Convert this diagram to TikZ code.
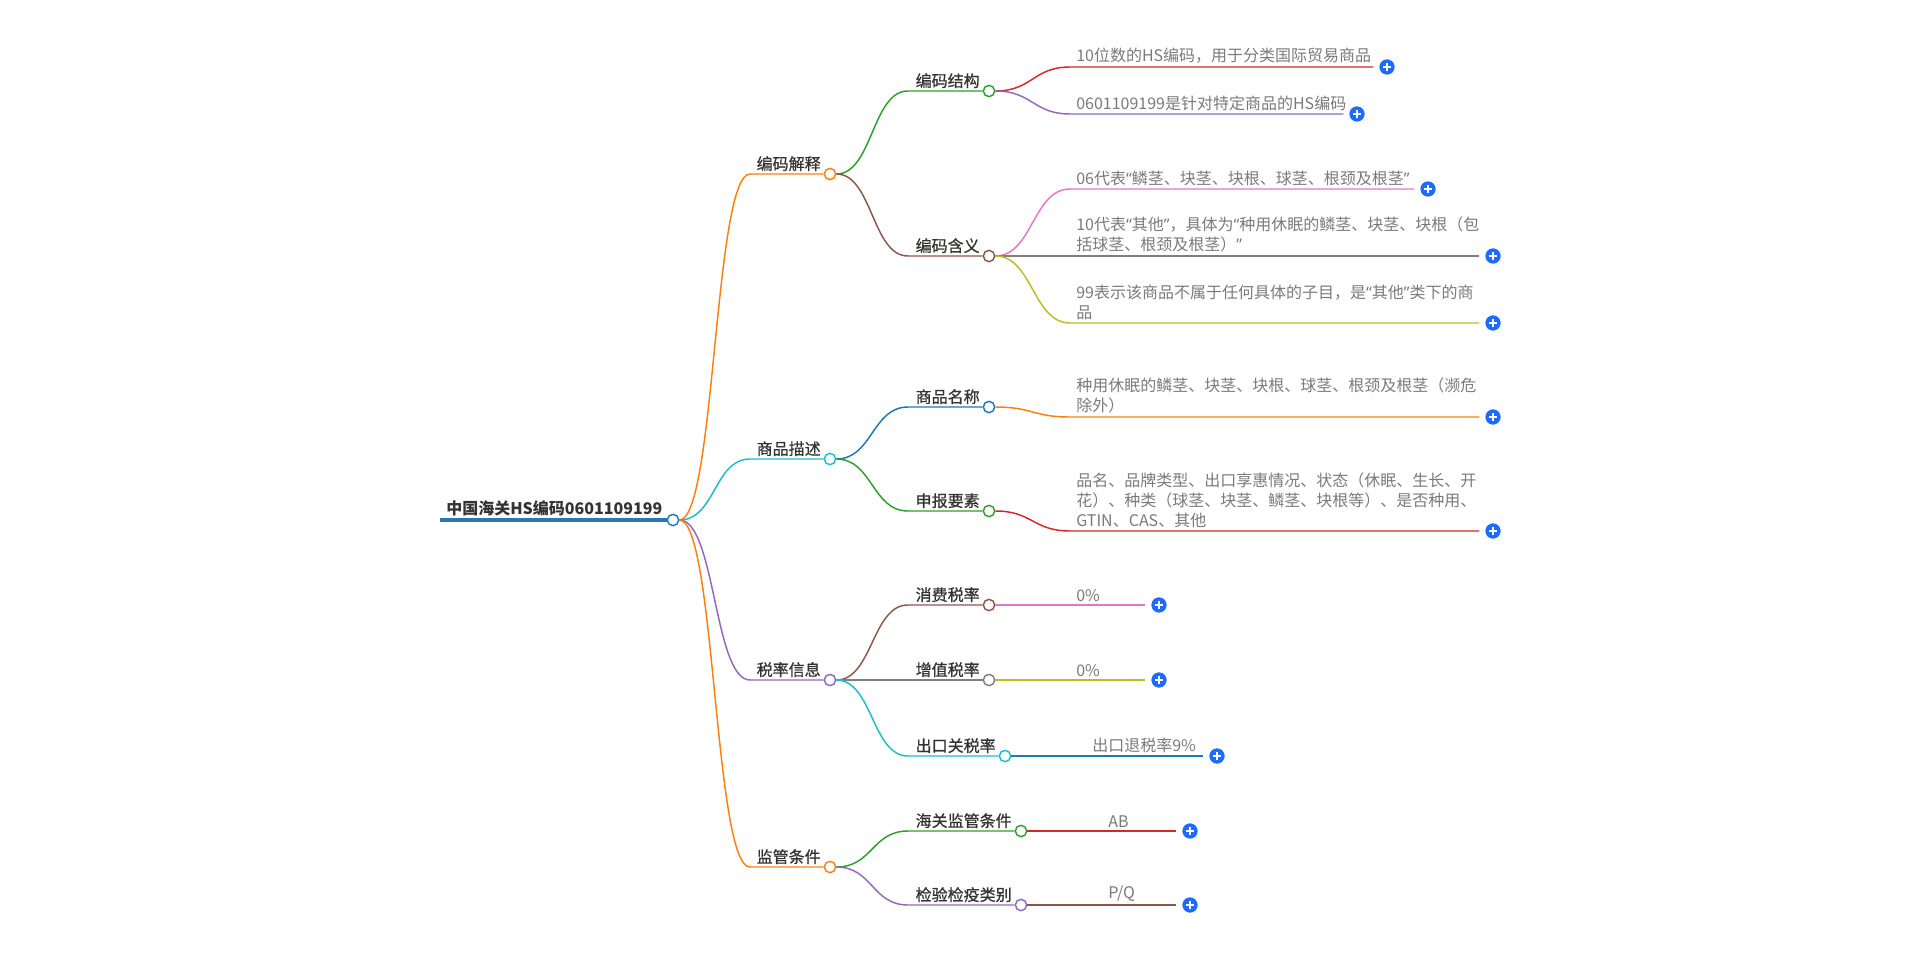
\documentclass[tikz,border=0pt]{standalone}
\usepackage{fontspec}
\setmainfont{Noto Sans CJK SC}
\newfontfamily\midfont{Noto Sans CJK SC}[FakeBold=0.7]
\newfontfamily\latinfont{Noto Sans}
\usetikzlibrary{positioning}

\definecolor{dOrange}{HTML}{FF7F0E}
\definecolor{dGreen}{HTML}{2CA02C}
\definecolor{dBrown}{HTML}{8C564B}
\definecolor{dRed}{HTML}{D62728}
\definecolor{dPurple}{HTML}{9467BD}
\definecolor{dPink}{HTML}{E377C2}
\definecolor{dGray}{HTML}{7F7F7F}
\definecolor{dOlive}{HTML}{BCBD22}
\definecolor{dCyan}{HTML}{17BECF}
\definecolor{dBlue}{HTML}{1F77B4}
\definecolor{rootblue}{HTML}{2878B8}
\definecolor{plusblue}{HTML}{1F6BFF}
\definecolor{txtdark}{HTML}{333333}
\definecolor{txtgray}{HTML}{7A7A7A}

% narrow curly quotes
\newcommand{\oquote}{{\latinfont “}}
\newcommand{\cquote}{{\latinfont ”}}

\begin{document}
\begin{tikzpicture}[
    x=0.75pt, y=-0.75pt,
    dot/.style={circle, draw, fill=white, line width=1.1pt, minimum size=8.5pt, inner sep=0pt},
    lvl/.style={font=\fontsize{12pt}{15pt}\midfont, text=txtdark, inner sep=0pt},
    leaf/.style={font=\fontsize{12pt}{15pt}\selectfont, text=txtgray, align=left, anchor=south west, inner xsep=4.5pt, inner ysep=2.5pt},
    plus/.style={circle, fill=plusblue, minimum size=11.5pt, inner sep=0pt, outer sep=4.5pt,
        path picture={\draw[white, line width=1.2pt]
            ([xshift=-3.2pt]path picture bounding box.center) -- ([xshift=3.2pt]path picture bounding box.center)
            ([yshift=-3.2pt]path picture bounding box.center) -- ([yshift=3.2pt]path picture bounding box.center);}},
    link/.style={line width=1.1pt}
]
    \useasboundingbox (0,0) rectangle (1920,953);
    \coordinate (x1) at (750,0);
    \coordinate (x2) at (908,0);

    % root
    \coordinate (rootstart) at (440,520);
    \node[dot, draw=rootblue] (root) at (673,520) {};
    \node[lvl, font=\fontsize{12pt}{15pt}\selectfont\bfseries, above left=2.5pt and 3pt of root.west] (roottxt) {中国海关HS编码0601109199};
    \draw[rootblue, line width=3pt] (rootstart) -- (root.west);

    % first level
    \node[dot, draw=dOrange] (code) at (830,174) {};
    \node[dot, draw=dCyan] (goods) at (830,459) {};
    \node[dot, draw=dPurple] (tax) at (830,680) {};
    \node[dot, draw=dOrange] (control) at (830,867) {};
    \node[lvl, above left=2pt and 2pt of code.west] (codetxt) {编码解释};
    \node[lvl, above left=2pt and 2pt of goods.west] (goodstxt) {商品描述};
    \node[lvl, above left=2pt and 2pt of tax.west] (taxtxt) {税率信息};
    \node[lvl, above left=2pt and 2pt of control.west] (controltxt) {监管条件};
    \draw[link, dOrange] (root.east) .. controls +(36,0) and +(-36,0) .. (x1 |- code) -- (code.west);
    \draw[link, dCyan] (root.east) .. controls +(36,0) and +(-36,0) .. (x1 |- goods) -- (goods.west);
    \draw[link, dPurple] (root.east) .. controls +(36,0) and +(-36,0) .. (x1 |- tax) -- (tax.west);
    \draw[link, dOrange] (root.east) .. controls +(36,0) and +(-36,0) .. (x1 |- control) -- (control.west);

    % second level
    \node[dot, draw=dGreen] (struct) at (989,91) {};
    \node[dot, draw=dBrown] (meaning) at (989,256) {};
    \node[dot, draw=dBlue] (name) at (989,407) {};
    \node[dot, draw=dGreen] (elements) at (989,511) {};
    \node[dot, draw=dBrown] (consume) at (989,605) {};
    \node[dot, draw=dGray] (vat) at (989,680) {};
    \node[dot, draw=dCyan] (export) at (1005,756) {};
    \node[dot, draw=dGreen] (customs) at (1021,831) {};
    \node[dot, draw=dPurple] (inspect) at (1021,905) {};
    \node[lvl, above left=2pt and 2pt of struct.west] (structtxt) {编码结构};
    \node[lvl, above left=2pt and 2pt of meaning.west] (meaningtxt) {编码含义};
    \node[lvl, above left=2pt and 2pt of name.west] (nametxt) {商品名称};
    \node[lvl, above left=2pt and 2pt of elements.west] (elementstxt) {申报要素};
    \node[lvl, above left=2pt and 2pt of consume.west] (consumetxt) {消费税率};
    \node[lvl, above left=2pt and 2pt of vat.west] (vattxt) {增值税率};
    \node[lvl, above left=2pt and 2pt of export.west] (exporttxt) {出口关税率};
    \node[lvl, above left=2pt and 2pt of customs.west] (customstxt) {海关监管条件};
    \node[lvl, above left=2pt and 2pt of inspect.west] (inspecttxt) {检验检疫类别};
    \draw[link, dGreen] (code.east) .. controls +(36,0) and +(-36,0) .. (x2 |- struct) -- (struct.west);
    \draw[link, dBrown] (code.east) .. controls +(36,0) and +(-36,0) .. (x2 |- meaning) -- (meaning.west);
    \draw[link, dBlue] (goods.east) .. controls +(36,0) and +(-36,0) .. (x2 |- name) -- (name.west);
    \draw[link, dGreen] (goods.east) .. controls +(36,0) and +(-36,0) .. (x2 |- elements) -- (elements.west);
    \draw[link, dBrown] (tax.east) .. controls +(36,0) and +(-36,0) .. (x2 |- consume) -- (consume.west);
    \draw[link, dGray] (tax.east) -- (vat.west);
    \draw[link, dCyan] (tax.east) .. controls +(36,0) and +(-36,0) .. (x2 |- export) -- (export.west);
    \draw[link, dGreen] (control.east) .. controls +(36,0) and +(-36,0) .. (x2 |- customs) -- (customs.west);
    \draw[link, dPurple] (control.east) .. controls +(36,0) and +(-36,0) .. (x2 |- inspect) -- (inspect.west);

    % leaves
    \node[leaf] (l1) at (1070,67) {10位数的HS编码，用于分类国际贸易商品};
    \node[leaf] (l2) at (1070,114) {0601109199是针对特定商品的HS编码};
    \node[leaf] (l3) at (1070,189) {06代表\oquote 鳞茎、块茎、块根、球茎、根颈及根茎\cquote};
    \node[leaf] (l4) at (1070,256) {10代表\oquote 其他\cquote ，具体为\oquote 种用休眠的鳞茎、块茎、块根（包\\括球茎、根颈及根茎）\cquote};
    \node[leaf] (l5) at (1070,323) {99表示该商品不属于任何具体的子目，是\oquote 其他\cquote 类下的商\\品};
    \node[leaf] (l6) at (1070,417) {种用休眠的鳞茎、块茎、块根、球茎、根颈及根茎（濒危\\除外）};
    \node[leaf] (l7) at (1070,531) {品名、品牌类型、出口享惠情况、状态（休眠、生长、开\\花）、种类（球茎、块茎、鳞茎、块根等）、是否种用、\\GTIN、CAS、其他};
    \node[leaf] (l8) at (1070,605) {0\%};
    \node[leaf] (l9) at (1070,680) {0\%};
    \node[leaf] (l10) at (1086,756) {出口退税率9\%};
    \node[leaf] (l11) at (1102,831) {AB};
    \node[leaf] (l12) at (1102,905) {P/Q};

    \node[plus] (p1) at (1387,67) {};
    \node[plus] (p2) at (1357,114) {};
    \node[plus] (p3) at (1428,189) {};
    \node[plus] (p4) at (1493,256) {};
    \node[plus] (p5) at (1493,323) {};
    \node[plus] (p6) at (1493,417) {};
    \node[plus] (p7) at (1493,531) {};
    \node[plus] (p8) at (1159,605) {};
    \node[plus] (p9) at (1159,680) {};
    \node[plus] (p10) at (1217,756) {};
    \node[plus] (p11) at (1190,831) {};
    \node[plus] (p12) at (1190,905) {};

    \draw[link, dRed] (struct.east) .. controls +(37,0) and +(-37,0) .. (l1.south west) -- (l1.south west -| p1.west);
    \draw[link, dPurple] (struct.east) .. controls +(37,0) and +(-37,0) .. (l2.south west) -- (l2.south west -| p2.west);
    \draw[link, dPink] (meaning.east) .. controls +(37,0) and +(-37,0) .. (l3.south west) -- (l3.south west -| p3.west);
    \draw[link, dGray] (meaning.east) -- (l4.south west) -- (l4.south west -| p4.west);
    \draw[link, dOlive] (meaning.east) .. controls +(37,0) and +(-37,0) .. (l5.south west) -- (l5.south west -| p5.west);
    \draw[link, dOrange] (name.east) .. controls +(37,0) and +(-37,0) .. (l6.south west) -- (l6.south west -| p6.west);
    \draw[link, dRed] (elements.east) .. controls +(37,0) and +(-37,0) .. (l7.south west) -- (l7.south west -| p7.west);
    \draw[link, dPink] (consume.east) -- (l8.south west) -- (l8.south west -| p8.west);
    \draw[link, dOlive] (vat.east) -- (l9.south west) -- (l9.south west -| p9.west);
    \draw[link, dBlue] (export.east) -- (l10.south west) -- (l10.south west -| p10.west);
    \draw[link, dRed] (customs.east) -- (l11.south west) -- (l11.south west -| p11.west);
    \draw[link, dBrown] (inspect.east) -- (l12.south west) -- (l12.south west -| p12.west);
\end{tikzpicture}
\end{document}
